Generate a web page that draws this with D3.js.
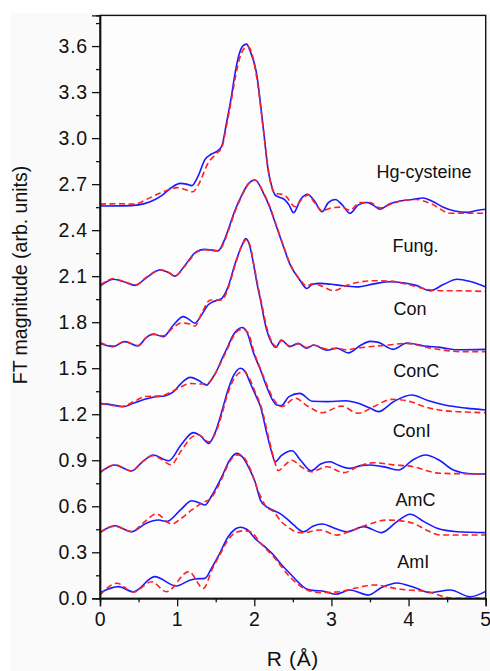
<!DOCTYPE html>
<html>
<head>
<meta charset="utf-8">
<script src="https://cdn.jsdelivr.net/npm/d3@7"></script>
<style>
  html, body { margin: 0; padding: 0; background: #ffffff; }
  svg { display: block; }
  text { font-family: "Liberation Sans", Arial, sans-serif; fill: #111; }
</style>
</head>
<body>
<svg id="chart" width="490" height="671"></svg>
<script>
// Fourier-transform magnitudes |FT| vs R (Å), stacked with vertical offsets.
// Each sample: experimental spectrum (solid) and model fit (dashed), as [R, |FT|] pairs.

const hgObs = [[0,2.557],[0.3,2.558],[0.5,2.565],[0.65,2.585],[0.8,2.625],[0.92,2.675],[1.04,2.705],[1.12,2.7],[1.19,2.69],[1.27,2.75],[1.36,2.86],[1.44,2.895],[1.52,2.915],[1.58,2.95],[1.64,3.1],[1.7,3.26],[1.75,3.42],[1.8,3.54],[1.85,3.6],[1.9,3.613],[1.945,3.57],[2.03,3.42],[2.12,3.05],[2.18,2.79],[2.23,2.68],[2.27,2.63],[2.31,2.618],[2.4,2.596],[2.45,2.565],[2.51,2.514],[2.6,2.6],[2.69,2.634],[2.78,2.59],[2.88,2.52],[2.96,2.58],[3.05,2.6],[3.14,2.565],[3.24,2.51],[3.35,2.565],[3.46,2.58],[3.55,2.56],[3.63,2.536],[3.75,2.57],[3.89,2.59],[4.05,2.6],[4.19,2.61],[4.32,2.585],[4.45,2.55],[4.6,2.525],[4.76,2.516],[4.9,2.53],[5,2.536]];
const hgFit = [[0,2.57],[0.2,2.572],[0.45,2.57],[0.6,2.6],[0.75,2.635],[0.9,2.665],[1.0,2.677],[1.1,2.665],[1.2,2.65],[1.28,2.7],[1.4,2.836],[1.51,2.9],[1.58,2.94],[1.64,3.08],[1.7,3.24],[1.76,3.41],[1.81,3.52],[1.87,3.585],[1.92,3.595],[1.97,3.55],[2.03,3.4],[2.1,3.13],[2.14,2.96],[2.18,2.8],[2.22,2.69],[2.27,2.64],[2.33,2.636],[2.4,2.625],[2.53,2.553],[2.62,2.605],[2.7,2.63],[2.78,2.58],[2.88,2.527],[3.0,2.545],[3.13,2.55],[3.24,2.53],[3.37,2.58],[3.5,2.58],[3.63,2.545],[3.8,2.575],[3.95,2.595],[4.1,2.6],[4.3,2.57],[4.54,2.51],[4.75,2.51],[5,2.51]];

const fungObs = [[0,2.036],[0.08,2.062],[0.17,2.08],[0.3,2.065],[0.46,2.04],[0.6,2.09],[0.78,2.14],[0.9,2.12],[0.97,2.1],[1.1,2.17],[1.25,2.26],[1.36,2.275],[1.45,2.27],[1.53,2.266],[1.6,2.32],[1.66,2.4],[1.75,2.53],[1.84,2.63],[1.92,2.7],[2.01,2.727],[2.12,2.64],[2.2,2.55],[2.29,2.42],[2.38,2.29],[2.46,2.18],[2.59,2.075],[2.68,2.02],[2.75,2.045],[2.85,2.053],[3.0,2.047],[3.11,2.04],[3.33,2.03],[3.55,2.05],[3.76,2.064],[3.95,2.055],[4.1,2.04],[4.28,2.005],[4.45,2.045],[4.63,2.08],[4.8,2.065],[5,2.03]];
const fungFit = [[0,2.042],[0.08,2.066],[0.17,2.085],[0.3,2.067],[0.46,2.042],[0.6,2.092],[0.78,2.142],[0.9,2.122],[0.97,2.1],[1.1,2.165],[1.25,2.255],[1.36,2.272],[1.45,2.268],[1.53,2.264],[1.6,2.31],[1.66,2.39],[1.75,2.52],[1.84,2.625],[1.92,2.7],[2.01,2.725],[2.12,2.645],[2.2,2.555],[2.29,2.425],[2.38,2.295],[2.46,2.185],[2.59,2.08],[2.68,2.035],[2.75,2.05],[2.85,2.04],[3.03,2.005],[3.2,2.04],[3.35,2.06],[3.55,2.07],[3.75,2.068],[4.0,2.045],[4.24,2.014],[4.45,2.005],[4.63,2.005],[5,2.0]];

const conObs = [[0,1.662],[0.17,1.64],[0.32,1.673],[0.49,1.645],[0.6,1.7],[0.69,1.723],[0.82,1.705],[0.95,1.78],[1.08,1.836],[1.15,1.82],[1.23,1.793],[1.32,1.85],[1.4,1.912],[1.5,1.94],[1.58,1.956],[1.66,2.03],[1.75,2.18],[1.84,2.3],[1.89,2.345],[1.94,2.3],[1.99,2.18],[2.04,2.04],[2.08,1.945],[2.16,1.75],[2.22,1.67],[2.28,1.636],[2.35,1.684],[2.46,1.64],[2.57,1.662],[2.68,1.63],[2.77,1.651],[2.94,1.617],[3.07,1.63],[3.22,1.6],[3.38,1.65],[3.5,1.675],[3.6,1.67],[3.8,1.623],[3.98,1.664],[4.2,1.645],[4.41,1.636],[4.63,1.62],[5,1.623]];
const conFit = [[0,1.667],[0.17,1.645],[0.32,1.675],[0.49,1.648],[0.6,1.7],[0.69,1.72],[0.82,1.712],[0.95,1.765],[1.05,1.795],[1.15,1.79],[1.23,1.775],[1.32,1.86],[1.43,1.945],[1.58,1.945],[1.66,2.02],[1.75,2.17],[1.84,2.3],[1.9,2.34],[1.95,2.29],[2.0,2.16],[2.05,2.03],[2.09,1.935],[2.17,1.75],[2.23,1.67],[2.29,1.64],[2.35,1.68],[2.46,1.645],[2.57,1.66],[2.68,1.635],[2.77,1.65],[2.94,1.625],[3.07,1.63],[3.18,1.62],[3.4,1.635],[3.74,1.651],[3.96,1.662],[4.3,1.63],[4.69,1.608],[5,1.608]];

const concObs = [[0,1.271],[0.15,1.262],[0.3,1.249],[0.45,1.275],[0.58,1.297],[0.7,1.312],[0.84,1.319],[0.95,1.345],[1.05,1.4],[1.17,1.44],[1.28,1.42],[1.38,1.39],[1.45,1.43],[1.52,1.49],[1.58,1.56],[1.66,1.645],[1.72,1.71],[1.78,1.75],[1.84,1.765],[1.9,1.74],[1.99,1.6],[2.08,1.49],[2.16,1.38],[2.24,1.29],[2.29,1.26],[2.35,1.256],[2.45,1.315],[2.59,1.336],[2.75,1.285],[2.95,1.282],[3.18,1.288],[3.35,1.271],[3.5,1.24],[3.61,1.217],[3.8,1.28],[4.04,1.325],[4.25,1.29],[4.47,1.26],[4.75,1.24],[5,1.228]];
const concFit = [[0,1.27],[0.15,1.258],[0.27,1.25],[0.45,1.285],[0.58,1.315],[0.8,1.32],[0.92,1.345],[1.02,1.37],[1.17,1.4],[1.32,1.397],[1.42,1.41],[1.5,1.47],[1.58,1.55],[1.66,1.635],[1.72,1.7],[1.79,1.745],[1.85,1.755],[1.92,1.73],[2.0,1.6],[2.1,1.47],[2.18,1.37],[2.26,1.29],[2.31,1.26],[2.36,1.25],[2.53,1.304],[2.7,1.25],[2.88,1.21],[3.13,1.253],[3.35,1.206],[3.55,1.25],[3.78,1.297],[4.04,1.28],[4.2,1.25],[4.39,1.228],[4.7,1.215],[5,1.21]];

const coniObs = [[0,0.819],[0.19,0.869],[0.41,0.83],[0.55,0.89],[0.69,0.934],[0.89,0.897],[1.05,1.0],[1.21,1.08],[1.3,1.06],[1.41,1.01],[1.5,1.09],[1.58,1.22],[1.66,1.36],[1.74,1.46],[1.82,1.5],[1.88,1.48],[1.95,1.4],[2.03,1.31],[2.08,1.25],[2.16,1.08],[2.23,0.945],[2.27,0.89],[2.35,0.93],[2.49,0.962],[2.6,0.9],[2.74,0.832],[2.86,0.875],[2.98,0.89],[3.1,0.865],[3.24,0.847],[3.38,0.865],[3.5,0.869],[3.7,0.855],[3.87,0.836],[4.05,0.9],[4.22,0.934],[4.4,0.9],[4.58,0.836],[4.8,0.812],[5,0.81]];
const coniFit = [[0,0.82],[0.19,0.87],[0.41,0.83],[0.55,0.89],[0.69,0.93],[0.8,0.905],[0.92,0.87],[1.05,0.96],[1.2,1.054],[1.28,1.065],[1.41,1.02],[1.5,1.08],[1.58,1.2],[1.66,1.34],[1.75,1.44],[1.86,1.48],[1.93,1.44],[2.0,1.36],[2.1,1.23],[2.18,1.06],[2.26,0.9],[2.31,0.832],[2.4,0.87],[2.49,0.9],[2.6,0.86],[2.74,0.825],[2.94,0.858],[3.16,0.819],[3.35,0.86],[3.55,0.884],[3.8,0.87],[4.06,0.858],[4.25,0.83],[4.41,0.815],[5,0.81]];

const amcObs = [[0,0.428],[0.19,0.473],[0.41,0.434],[0.6,0.49],[0.76,0.51],[0.86,0.5],[1.05,0.58],[1.19,0.636],[1.3,0.62],[1.36,0.608],[1.45,0.67],[1.58,0.793],[1.68,0.9],[1.77,0.945],[1.85,0.92],[1.95,0.83],[2.01,0.76],[2.08,0.64],[2.15,0.6],[2.2,0.585],[2.33,0.554],[2.42,0.52],[2.51,0.478],[2.64,0.434],[2.76,0.47],[2.88,0.484],[3.05,0.455],[3.2,0.434],[3.42,0.467],[3.65,0.428],[3.85,0.5],[4.02,0.548],[4.2,0.5],[4.37,0.456],[4.63,0.434],[5,0.428]];
const amcFit = [[0,0.43],[0.19,0.47],[0.41,0.435],[0.58,0.5],[0.73,0.55],[0.93,0.484],[1.05,0.52],[1.19,0.576],[1.32,0.62],[1.45,0.66],[1.58,0.78],[1.68,0.89],[1.78,0.935],[1.86,0.92],[1.95,0.84],[2.05,0.7],[2.15,0.6],[2.25,0.565],[2.35,0.5],[2.45,0.46],[2.56,0.43],[2.64,0.428],[2.85,0.445],[3.07,0.412],[3.25,0.44],[3.46,0.478],[3.72,0.51],[3.9,0.505],[4.06,0.489],[4.25,0.44],[4.41,0.413],[5,0.413]];

const amiObs = [[0,0.037],[0.24,0.076],[0.43,0.043],[0.71,0.141],[0.99,0.08],[1.15,0.115],[1.23,0.126],[1.36,0.13],[1.45,0.2],[1.53,0.271],[1.66,0.4],[1.75,0.45],[1.82,0.463],[1.9,0.45],[2.03,0.38],[2.15,0.33],[2.25,0.282],[2.35,0.22],[2.46,0.163],[2.58,0.1],[2.68,0.061],[2.78,0.05],[2.88,0.048],[3.05,0.026],[3.24,0.054],[3.48,0.021],[3.65,0.07],[3.85,0.1],[4.05,0.075],[4.28,0.037],[4.54,0.054],[4.8,0.01],[5,0.045]];
const amiFit = [[0,0.02],[0.22,0.098],[0.43,0.04],[0.67,0.108],[0.86,0.043],[1.15,0.174],[1.34,0.065],[1.46,0.196],[1.56,0.29],[1.66,0.38],[1.76,0.43],[1.86,0.44],[1.95,0.434],[2.08,0.36],[2.25,0.271],[2.46,0.141],[2.64,0.065],[2.85,0.037],[3.11,0.043],[3.3,0.065],[3.55,0.087],[3.89,0.059],[4.24,0.043],[4.58,0.0],[5,0.0]];

const sampleNames = ["Hg-cysteine", "Fung.", "Con", "ConC", "ConI", "AmC", "AmI"];
const observed = [hgObs, fungObs, conObs, concObs, coniObs, amcObs, amiObs];
const fitted = [hgFit, fungFit, conFit, concFit, coniFit, amcFit, amiFit];

const xMajorTicks = [0, 1, 2, 3, 4, 5];
const yMajorTicks = [0, 0.3, 0.6, 0.9, 1.2, 1.5, 1.8, 2.1, 2.4, 2.7, 3.0, 3.3, 3.6];

// label anchor for each sample name, in data units [R, |FT|]
const nameAnchor = [[4.2, 2.74], [4.09, 2.26], [4.02, 1.85], [4.1, 1.44], [4.04, 1.05], [4.09, 0.6], [4.06, 0.195]];

const svg = d3.select("#chart");
const W = 490, H = 671;
const plot = { left: 100, right: 485.7, top: 15.4, bottom: 598.3 };

svg.append("rect").attr("x", 10).attr("y", 13).attr("width", W - 10).attr("height", H - 13).attr("fill", "#fafafa");

const x = d3.scaleLinear().domain([0, 5]).range([plot.left, plot.right]);
const y = d3.scaleLinear().domain([0, 3.8]).range([plot.bottom, plot.top]);

svg.append("rect")
  .attr("x", plot.left).attr("y", plot.top)
  .attr("width", plot.right - plot.left).attr("height", plot.bottom - plot.top)
  .attr("fill", "#fdfdfd");

const line = d3.line().x(d => x(d[0])).y(d => y(d[1])).curve(d3.curveMonotoneX);

const gLines = svg.append("g");
observed.forEach(s => {
  gLines.append("path").attr("d", line(s))
    .attr("fill", "none").attr("stroke", "#1a1aff").attr("stroke-width", 1.6);
});
fitted.forEach(s => {
  gLines.append("path").attr("d", line(s))
    .attr("fill", "none").attr("stroke", "#ff2020").attr("stroke-width", 1.6)
    .attr("stroke-dasharray", "6,3.5");
});

// sample names
svg.append("g").selectAll("text").data(sampleNames).join("text")
  .attr("x", (d, i) => x(nameAnchor[i][0]))
  .attr("y", (d, i) => y(nameAnchor[i][1]))
  .attr("text-anchor", "middle")
  .attr("font-size", 18)
  .text(d => d);

// frame
svg.append("rect")
  .attr("x", plot.left).attr("y", plot.top)
  .attr("width", plot.right - plot.left).attr("height", plot.bottom - plot.top)
  .attr("fill", "none").attr("stroke", "#111").attr("stroke-width", 1.4);

// x axis
const xAxis = d3.axisBottom(x).tickValues(xMajorTicks).tickFormat(d3.format("d")).tickSize(8).tickPadding(6);
svg.append("g").attr("transform", `translate(0,${plot.bottom})`).call(xAxis);
const xMinor = d3.axisBottom(x).tickValues(xMajorTicks.slice(0, -1).map(v => v + 0.5)).tickFormat("").tickSize(4);
svg.append("g").attr("transform", `translate(0,${plot.bottom})`).call(xMinor);

// y axis
const yAxis = d3.axisLeft(y).tickValues(yMajorTicks).tickFormat(d3.format(".1f")).tickSize(8).tickPadding(4);
svg.append("g").attr("transform", `translate(${plot.left},0)`).call(yAxis);
const yMinor = d3.axisLeft(y).tickValues(yMajorTicks.map(v => v + 0.15)).tickFormat("").tickSize(4);
svg.append("g").attr("transform", `translate(${plot.left},0)`).call(yMinor);

svg.selectAll(".domain").attr("stroke", "#111").attr("stroke-width", 1.4);
svg.selectAll(".tick line").attr("stroke", "#111").attr("stroke-width", 1.3);
svg.selectAll(".tick text")
  .attr("font-size", 19.5)
  .attr("letter-spacing", "0.8px")
  .attr("font-family", "Liberation Sans, Arial, sans-serif")
  .attr("fill", "#111");

// axis titles
svg.append("text")
  .attr("x", (plot.left + plot.right) / 2).attr("y", 666)
  .attr("text-anchor", "middle").attr("font-size", 21)
  .attr("letter-spacing", "0.6px")
  .text("R (Å)");
svg.append("text")
  .attr("transform", `translate(27,275) rotate(-90)`)
  .attr("text-anchor", "middle").attr("font-size", 19.5)
  .text("FT magnitude (arb. units)");
</script>
</body>
</html>
